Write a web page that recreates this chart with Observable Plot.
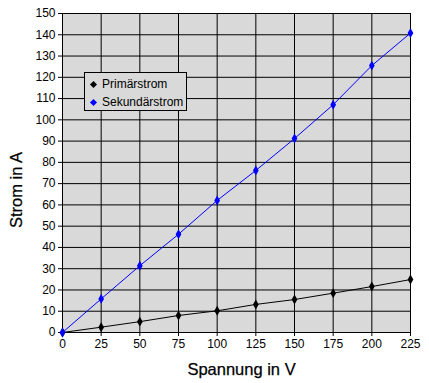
<!DOCTYPE html>
<html><head><meta charset="utf-8">
<script src="https://cdn.jsdelivr.net/npm/d3@7"></script>
<script src="https://cdn.jsdelivr.net/npm/@observablehq/plot@0.6"></script>
<style>
body{margin:0;background:#fff;}
#wrap{position:relative;width:429px;height:383px;font-family:"Liberation Sans",Arial,sans-serif;}
#legend{position:absolute;left:84px;top:72px;width:101px;height:37px;background:#d9d9d9;border:1px solid #000;font-size:12px;}
#legend div{position:absolute;left:0;height:14px;line-height:14px;white-space:nowrap;}
#legend span.m{display:inline-block;width:5px;height:5px;transform:rotate(45deg);margin:0 6px 1px 6px;vertical-align:middle;}
</style></head>
<body><div id="wrap"></div>
<script>
const spannung = [0, 25, 50, 75, 100, 125, 150, 175, 200, 225];
const primaerstrom = [0, 2.5, 5.1, 8.0, 10.2, 13.2, 15.5, 18.5, 21.6, 24.9];
const sekundaerstrom = [0, 15.8, 31.4, 46.2, 62.1, 76.2, 91.2, 107.1, 125.5, 140.8];
const seriesNames = ["Primärstrom", "Sekundärstrom"];
const seriesColors = ["#000000", "#0000ff"];
const xTicks = [0, 25, 50, 75, 100, 125, 150, 175, 200, 225];
const yTicks = d3.range(0, 151, 10);

const data = [];
spannung.forEach((v, i) => {
  data.push({x: v, y: primaerstrom[i], s: seriesNames[0]});
  data.push({x: v, y: sekundaerstrom[i], s: seriesNames[1]});
});

const chart = Plot.plot({
  width: 429, height: 383,
  marginLeft: 62, marginRight: 19, marginTop: 13, marginBottom: 51,
  style: {fontFamily: "Liberation Sans, Arial, sans-serif", fontSize: "12px", color: "#000", background: "#fff"},
  x: {domain: [0, 225], ticks: xTicks, label: null, tickSize: 4, tickPadding: 3},
  y: {domain: [0, 150], ticks: yTicks, label: null, tickSize: 4, tickPadding: 3},
  color: {domain: seriesNames, range: seriesColors},
  marks: [
    Plot.frame({fill: "#d9d9d9"}),
    Plot.gridX(xTicks, {stroke: "#000", strokeOpacity: 1}),
    Plot.gridY(yTicks, {stroke: "#000", strokeOpacity: 1}),
    Plot.frame({stroke: "#000"}),
    Plot.axisX({ticks: xTicks, tickSize: 4, tickPadding: 3, label: null}),
    Plot.axisY({ticks: yTicks, tickSize: 4, tickPadding: 3, label: null}),
    Plot.line(data, {x: "x", y: "y", z: "s", stroke: "s", strokeWidth: 1}),
    Plot.dot(data, {x: "x", y: "y", fill: "s", symbol: "diamond", r: 3}),
    Plot.text(["Spannung in V"], {frameAnchor: "bottom", textAnchor: "middle", lineAnchor: "middle", dy: 37, dx: 5, fontSize: 16.5, fill: "#000", stroke: "#000", strokeWidth: 0.25}),
    Plot.text(["Strom in A"], {frameAnchor: "left", textAnchor: "middle", lineAnchor: "middle", rotate: -90, dx: -46, dy: 17, fontSize: 16.5, fill: "#000", stroke: "#000", strokeWidth: 0.25})
  ]
});
const wrap = document.getElementById("wrap");
wrap.appendChild(chart);
const leg = document.createElement("div");
leg.id = "legend";
seriesNames.forEach((n, i) => {
  const row = document.createElement("div");
  row.style.top = (i === 0 ? 4 : 22) + "px";
  row.innerHTML = `<span class="m" style="background:${seriesColors[i]}"></span>${n}`;
  leg.appendChild(row);
});
wrap.appendChild(leg);
</script></body></html>
